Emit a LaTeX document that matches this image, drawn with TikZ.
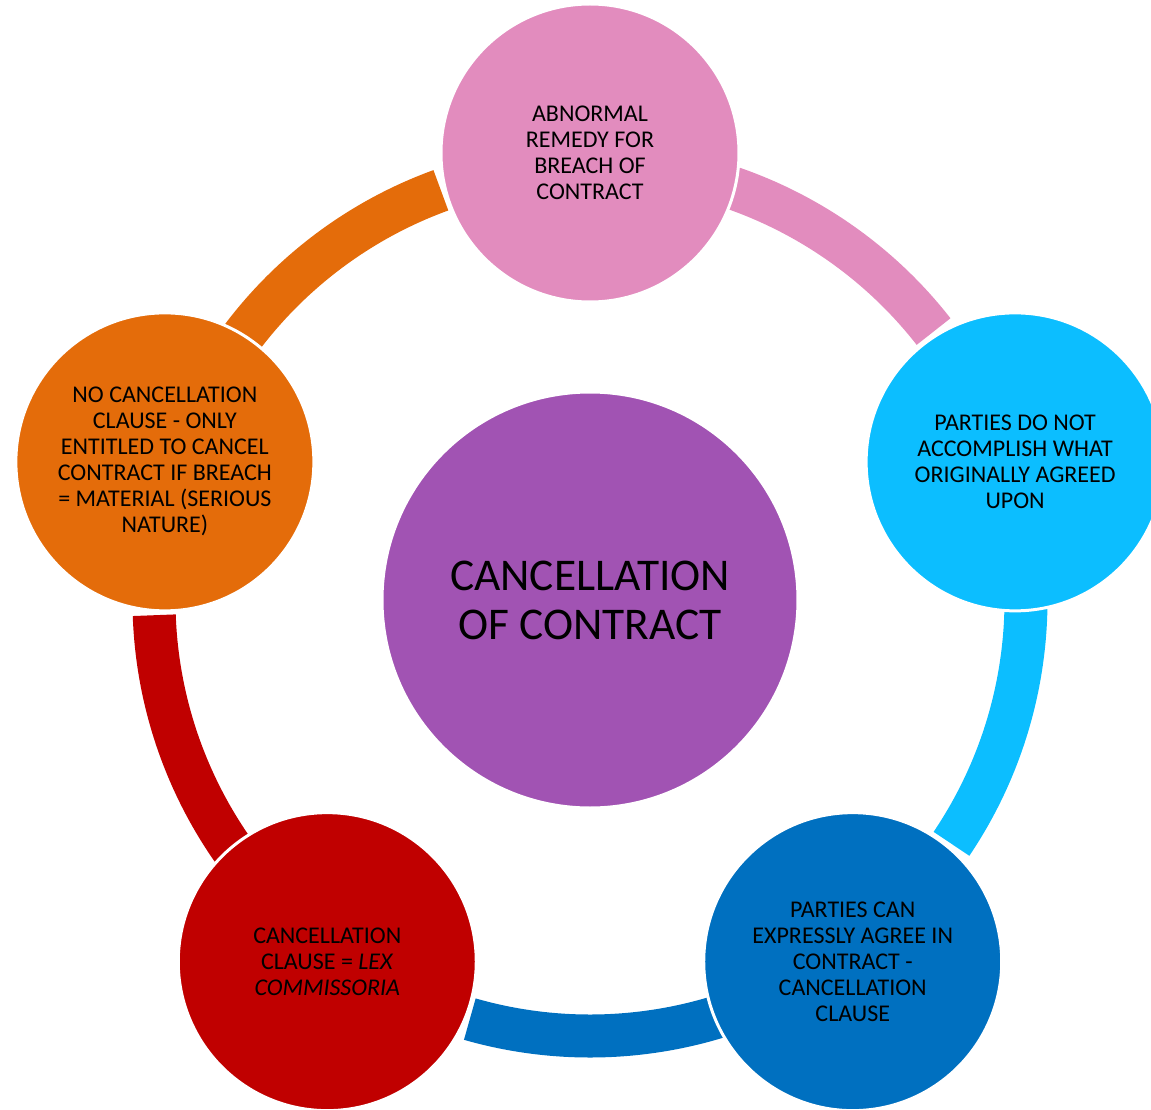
\documentclass[tikz,border=0pt]{standalone}
\usepackage{fontspec}
\setmainfont{Carlito}
\usetikzlibrary{calc,backgrounds}

\definecolor{pinkc}{RGB}{226,140,190}
\definecolor{skyc}{RGB}{12,190,255}
\definecolor{bluec}{RGB}{0,112,192}
\definecolor{redc}{RGB}{192,0,0}
\definecolor{orangec}{RGB}{228,108,10}
\definecolor{purplec}{RGB}{161,83,179}

\tikzset{
  cyc/.style={circle,draw=white,line width=1.5pt,minimum size=149pt,inner sep=0pt,
    align=center,font=\fontsize{12}{13}\selectfont},
  band/.style={line width=21.5pt},
}

\begin{document}
\begin{tikzpicture}[x=0.5pt,y=0.5pt]
        \useasboundingbox (-590,-509) rectangle (561,600);
        \node[cyc,fill=purplec,minimum size=208pt,font=\fontsize{22.7}{24.5}\selectfont] (hub) at (0,0) {CANCELLATION\\OF CONTRACT};
        \node[cyc,fill=pinkc]   (abnormal) at (90:447)   {ABNORMAL\\REMEDY FOR\\BREACH OF\\CONTRACT};
        \node[cyc,fill=skyc]    (fail)     at (18:447)   {PARTIES DO NOT\\ACCOMPLISH WHAT\\ORIGINALLY AGREED\\UPON};
        \node[cyc,fill=bluec]   (express)  at (-54:447)  {PARTIES CAN\\EXPRESSLY AGREE IN\\CONTRACT -\\CANCELLATION\\CLAUSE};
        \node[cyc,fill=redc]    (lex)      at (-126:447) {CANCELLATION\\CLAUSE = \textit{LEX}\\\textit{COMMISSORIA}};
        \node[cyc,fill=orangec] (material) at (162:447)  {NO CANCELLATION\\CLAUSE - ONLY\\ENTITLED TO CANCEL\\CONTRACT IF BREACH\\= MATERIAL (SERIOUS\\NATURE)};
        % ring of bands, each starts under its own circle
        \begin{scope}[on background layer]
        \draw[band,pinkc]   ($(hub.center)!0.9754!(abnormal.center)$) arc[start angle=90,end angle=38,radius=436];
        \draw[band,skyc]    ($(hub.center)!0.9754!(fail.center)$)     arc[start angle=18,end angle=-34,radius=436];
        \draw[band,bluec]   ($(hub.center)!0.9754!(express.center)$)  arc[start angle=-54,end angle=-106,radius=436];
        \draw[band,redc]    ($(hub.center)!0.9754!(lex.center)$)      arc[start angle=-126,end angle=-178,radius=436];
        \draw[band,orangec] ($(hub.center)!0.9754!(material.center)$) arc[start angle=162,end angle=110,radius=436];
        \end{scope}
    \end{tikzpicture}
\end{document}
